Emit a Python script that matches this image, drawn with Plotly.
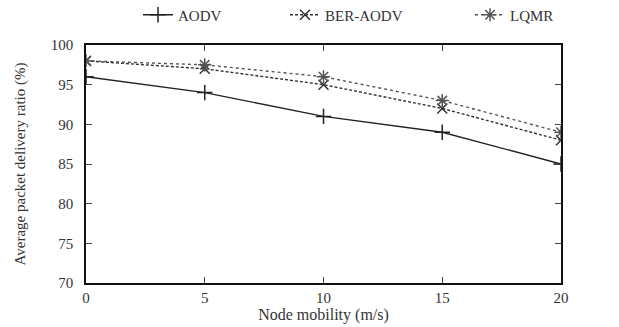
import plotly.graph_objects as go

mobility = [0, 5, 10, 15, 20]
aodv = [96, 94, 91, 89, 85]
ber_aodv = [98, 97, 95, 92, 88]
lqmr = [98, 97.5, 96, 93, 89]

x_ticks = [0, 5, 10, 15, 20]
y_ticks = [70, 75, 80, 85, 90, 95, 100]

fig = go.Figure()
fig.add_trace(go.Scatter(
    x=mobility, y=aodv, name="AODV", mode="lines+markers", legend="legend",
    line=dict(color="#222222", width=1.4, dash="solid"),
    marker=dict(symbol="cross-thin", size=11, line=dict(color="#222222", width=1.5)),
))
fig.add_trace(go.Scatter(
    x=mobility, y=ber_aodv, name="BER-AODV", mode="lines+markers", legend="legend2",
    line=dict(color="#333333", width=1.4, dash="3px,2px"),
    marker=dict(symbol="x-thin", size=10, line=dict(color="#333333", width=1.5)),
))
fig.add_trace(go.Scatter(
    x=mobility, y=lqmr, name="LQMR", mode="lines+markers", legend="legend3",
    line=dict(color="#555555", width=1.4, dash="dot"),
    marker=dict(symbol="asterisk-open", size=11, line=dict(color="#222222", width=1.5)),
))

font = "Liberation Serif"
W, H = 619, 327


def leg(px):
    return dict(
        orientation="h", xref="container", yref="container",
        x=px / W, xanchor="left", y=1 - 15 / H, yanchor="middle",
        font=dict(family=font, size=15, color="#333333"),
        bgcolor="rgba(0,0,0,0)",
    )


fig.update_layout(
    width=W, height=H,
    margin=dict(l=86, r=58, t=45, b=44, autoexpand=False),
    paper_bgcolor="white", plot_bgcolor="white",
    font=dict(family=font, size=15, color="#333333"),
    showlegend=True,
    legend=leg(138),
    legend2=leg(285),
    legend3=leg(470),
    xaxis=dict(
        range=[0, 20], tickvals=x_ticks, ticks="inside", ticklen=6,
        showline=True, linecolor="#111111", linewidth=1.5, mirror="ticks",
        showgrid=False, zeroline=False,
        title=dict(text="Node mobility (m/s)", font=dict(size=16), standoff=0),
        tickfont=dict(size=15),
    ),
    yaxis=dict(
        range=[70, 100], tickvals=y_ticks, ticks="inside", ticklen=6,
        showline=True, linecolor="#111111", linewidth=1.5, mirror="ticks",
        showgrid=False, zeroline=False,
        title=dict(text="Average packet delivery ratio (%)", font=dict(size=15), standoff=22),
        tickfont=dict(size=15), ticklabelstandoff=8,
    ),
)

fig.write_html("out.html", config={"displayModeBar": False},
               post_script="document.body.style.margin='0';")
